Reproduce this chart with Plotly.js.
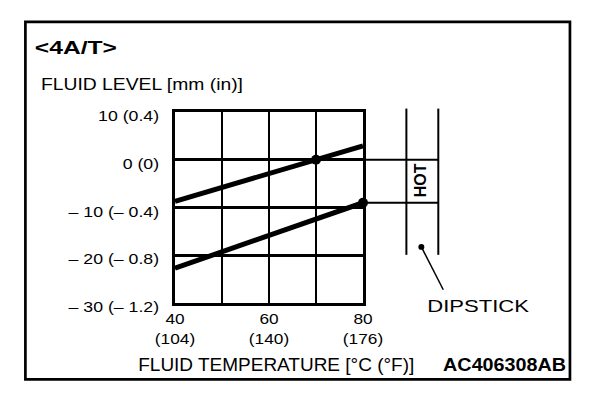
<!DOCTYPE html>
<html>
<head>
<meta charset="utf-8">
<script src="https://cdn.plot.ly/plotly-3.0.1.min.js"></script>
<style>
  html, body { margin: 0; padding: 0; background: #fff; }
  #chart { width: 608px; height: 396px; }
</style>
</head>
<body>
<div id="chart"></div>
<script>
// ---- data ----
const tempC = [40, 80];
const upperLevel = [-8.7, 2.9];
const lowerLevel = [-22.7, -9.0];
const markTemp = [70, 80];
const markLevel = [0, -9];
const xTickVals = [40, 50, 60, 70, 80];
const xTickText = ['40<br>(104)', '', '60<br>(140)', '', '80<br>(176)'];
const yTickVals = [10, 0, -10, -20, -30];
const yTickText = ['10 (0.4)', '0 (0)', '– 10 (– 0.4)', '– 20 (– 0.8)', '– 30 (– 1.2)'];

// ---- layout helpers (pixel -> paper) ----
const W = 608, H = 396;
const L = 175, R = 363.5, T = 111.7, B = 303.3;
const px = x => (x - L) / (R - L);
const py = y => (B - y) / (B - T);
const FONT = '"Liberation Sans", Arial, Helvetica, sans-serif';

const annotationSpecs = [
  {text: '<4A/T>', cx: 76, cy: 46.7, size: 18.5, bold: true, width: 82},
  {text: 'FLUID LEVEL [mm (in)]', cx: 142, cy: 83.9, size: 17, bold: false, width: 202},
  {text: 'FLUID TEMPERATURE [°C (°F)]', cx: 276.7, cy: 365, size: 17.5, bold: false, width: 276},
  {text: 'AC406308AB', cx: 505, cy: 364.9, size: 18.5, bold: true, width: 123},
  {text: 'DIPSTICK', cx: 479.2, cy: 305.9, size: 16.5, bold: false, width: 101.7},
  {text: 'HOT', cx: 420.8, cy: 180, size: 16, bold: true, width: null, angle: -90}
];

const traces = [
  {x: tempC, y: upperLevel, mode: 'lines', line: {color: '#000', width: 5}, hoverinfo: 'skip'},
  {x: tempC, y: lowerLevel, mode: 'lines', line: {color: '#000', width: 5}, hoverinfo: 'skip'},
  {x: markTemp, y: markLevel, mode: 'markers', marker: {color: '#000', size: 10}, cliponaxis: false, hoverinfo: 'skip'}
];

const shapes = [
  // outer frame
  {type: 'rect', xref: 'paper', yref: 'paper', x0: px(25), x1: px(571), y0: py(380), y1: py(21.3),
   line: {color: '#000', width: 2.7}, layer: 'above'},
  // dipstick vertical lines
  {type: 'line', xref: 'paper', yref: 'paper', x0: px(407), x1: px(407), y0: py(108.3), y1: py(255),
   line: {color: '#000', width: 2}},
  {type: 'line', xref: 'paper', yref: 'paper', x0: px(439), x1: px(439), y0: py(108.3), y1: py(255),
   line: {color: '#000', width: 2}},
  // dipstick leader dot and line
  {type: 'circle', xref: 'paper', yref: 'paper', x0: px(419), x1: px(425), y0: py(244), y1: py(250),
   fillcolor: '#000', line: {color: '#000', width: 0}},
  {type: 'line', xref: 'paper', yref: 'paper', x0: px(422), x1: px(444), y0: py(247), y1: py(290),
   line: {color: '#000', width: 1.5}}
];
// horizontal extensions from the marked points to the dipstick
markLevel.forEach((lv, i) => {
  shapes.push({type: 'line', xref: 'paper', yref: 'y', x0: px(R), x1: px(439), y0: lv, y1: lv,
    line: {color: '#000', width: 2}});
});

const annotations = annotationSpecs.map(s => ({
  text: s.text, xref: 'paper', yref: 'paper', x: px(s.cx), y: py(s.cy),
  xanchor: 'center', yanchor: 'middle', showarrow: false, textangle: s.angle || 0,
  font: {family: FONT, size: s.size, color: '#000', weight: s.bold ? 'bold' : 'normal'}
}));

const layout = {
  width: W, height: H,
  margin: {l: L, r: W - R, t: T, b: H - B, pad: 0},
  paper_bgcolor: '#fff', plot_bgcolor: '#fff',
  showlegend: false,
  font: {family: FONT, color: '#000'},
  xaxis: {
    range: [40, 80], tickvals: xTickVals, ticktext: xTickText,
    showgrid: true, gridcolor: '#000', gridwidth: 2.6,
    showline: true, mirror: true, linecolor: '#000', linewidth: 3,
    zeroline: false, ticks: '', ticklabelstandoff: 0,
    tickfont: {family: FONT, size: 15, color: '#000'}, fixedrange: true
  },
  yaxis: {
    range: [-30, 10], tickvals: yTickVals, ticktext: yTickText,
    showgrid: true, gridcolor: '#000', gridwidth: 2.6,
    showline: true, mirror: true, linecolor: '#000', linewidth: 3,
    zeroline: false, ticks: '', ticklabelstandoff: 10, ticklabelshift: 4,
    tickfont: {family: FONT, size: 14.5, color: '#000'}, fixedrange: true
  },
  shapes: shapes,
  annotations: annotations
};

function stretchNode(node, factor, target) {
  const w = node.getComputedTextLength();
  if (!w) return;
  const len = target ? target : w * factor;
  node.setAttribute('textLength', len.toFixed(2));
  node.setAttribute('lengthAdjust', 'spacingAndGlyphs');
}
function stretchText(el, factor) {
  const lines = el.querySelectorAll('tspan.line');
  if (lines.length) lines.forEach(t => stretchNode(t, factor));
  else stretchNode(el, factor);
}

const gd = document.getElementById('chart');
Plotly.newPlot(gd, traces, layout, {staticPlot: true, displayModeBar: false}).then(() => {
  gd.querySelectorAll('.ytick text').forEach(t => stretchText(t, 1.22));
  gd.querySelectorAll('.xtick text').forEach(t => stretchText(t, 1.15));
  gd.querySelectorAll('.annotation-text').forEach(t => {
    const spec = annotationSpecs.find(s => s.text === t.textContent);
    if (spec && spec.width) stretchNode(t, 1, spec.width);
  });
});
</script>
</body>
</html>
